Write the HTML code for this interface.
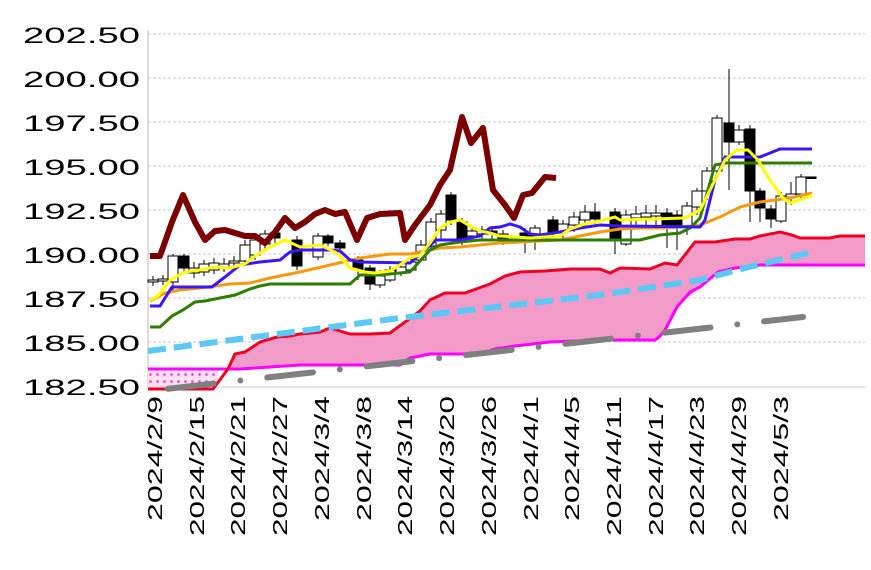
<!DOCTYPE html>
<html><head><meta charset="utf-8"><style>body{margin:0;background:#fff}svg{display:block}</style></head><body>
<svg width="871" height="570" viewBox="0 0 871 570" xmlns="http://www.w3.org/2000/svg" font-family="Liberation Sans, sans-serif">
<defs>
<pattern id="dots" width="7" height="7" patternUnits="userSpaceOnUse"><rect width="7" height="7" fill="#fbe0f0"/><circle cx="3.5" cy="3.5" r="1.3" fill="#ff33cc"/></pattern>
</defs>
<g stroke="#c8c8c8" stroke-width="1" stroke-dasharray="3,2">
<line x1="148" y1="34" x2="865" y2="34"/><line x1="148" y1="78" x2="865" y2="78"/><line x1="148" y1="122" x2="865" y2="122"/><line x1="148" y1="166" x2="865" y2="166"/><line x1="148" y1="210" x2="865" y2="210"/><line x1="148" y1="254" x2="865" y2="254"/><line x1="148" y1="298" x2="865" y2="298"/><line x1="148" y1="342" x2="865" y2="342"/>
</g>
<line x1="148" y1="30" x2="148" y2="388" stroke="#bbb"/>
<line x1="148" y1="387" x2="865" y2="387" stroke="#ccc"/>
<g font-size="22" fill="#000">
<text x="23" y="43" textLength="117" lengthAdjust="spacingAndGlyphs">202.50</text><text x="23" y="87" textLength="117" lengthAdjust="spacingAndGlyphs">200.00</text><text x="23" y="131" textLength="117" lengthAdjust="spacingAndGlyphs">197.50</text><text x="23" y="175" textLength="117" lengthAdjust="spacingAndGlyphs">195.00</text><text x="23" y="219" textLength="117" lengthAdjust="spacingAndGlyphs">192.50</text><text x="23" y="263" textLength="117" lengthAdjust="spacingAndGlyphs">190.00</text><text x="23" y="307" textLength="117" lengthAdjust="spacingAndGlyphs">187.50</text><text x="23" y="351" textLength="117" lengthAdjust="spacingAndGlyphs">185.00</text><text x="23" y="395" textLength="117" lengthAdjust="spacingAndGlyphs">182.50</text>
</g>
<rect x="148" y="369" width="70" height="20" fill="url(#dots)"/>
<polygon fill="#f29bc9" points="228,369 235,354 245,352 260,342 277,337 290,336 300,334 320,332 330,328 350,334 370,334 390,333 405,322 420,311 430,300 445,293 465,293 490,284 505,276 520,272 545,271 570,269 600,269 610,273 620,268 650,269 665,263 677,265 695,242 715,242 735,239 750,239 760,236 780,232 792,235 800,238 830,238 840,236 865,236 865,265 760,265 718,272 700,287 677,307 660,337 655,340 600,340 550,342 515,346 495,349 480,354 430,354 410,358 400,365 300,365 270,367 240,369"/>
<polyline fill="none" stroke="#ff00ff" stroke-width="3" points="148,369 240,369 270,367 300,365 400,365 410,358 430,354 480,354 495,349 515,346 550,342 600,340 655,340 660,336 665,330 677,307 690,292 700,287 718,272 735,268 760,265 865,265"/>
<polyline fill="none" stroke="#ee0020" stroke-width="3" points="148,389 213,389 228,369 235,354 245,352 260,342 277,337 290,336 300,334 320,332 330,328 350,334 370,334 390,333 405,322 420,311 430,300 445,293 465,293 490,284 505,276 520,272 545,271 570,269 600,269 610,273 620,268 650,269 665,263 677,265 695,242 715,242 735,239 750,239 760,236 780,232 792,235 800,238 830,238 840,236 865,236"/>
<polyline fill="none" stroke="#5bc8f5" stroke-width="6" stroke-dasharray="18,8" points="148,351 400,318 600,295 700,280 745,268 808,253"/>
<line x1="148" y1="391" x2="803" y2="317" stroke="#808080" stroke-width="6" stroke-linecap="round" stroke-dasharray="46,27,0,27" stroke-dashoffset="-20"/>
<g stroke="#000" stroke-width="1">
<line x1="153" y1="276" x2="153" y2="286"/><rect x="148" y="280" width="10" height="2" fill="#fff"/>
<line x1="163" y1="275" x2="163" y2="285"/><rect x="158" y="279" width="10" height="2" fill="#fff"/>
<line x1="173" y1="254" x2="173" y2="290"/><rect x="168" y="256" width="10" height="26" fill="#fff"/>
<line x1="184" y1="254" x2="184" y2="272"/><rect x="179" y="256" width="10" height="12" fill="#000"/>
<line x1="194" y1="262" x2="194" y2="278"/><rect x="189" y="268" width="10" height="5" fill="#fff"/>
<line x1="204" y1="260" x2="204" y2="276"/><rect x="199" y="264" width="10" height="8" fill="#fff"/>
<line x1="214" y1="258" x2="214" y2="274"/><rect x="209" y="263" width="10" height="7" fill="#fff"/>
<line x1="224" y1="258" x2="224" y2="272"/><rect x="219" y="264" width="10" height="4" fill="#fff"/>
<line x1="234" y1="256" x2="234" y2="268"/><rect x="229" y="261" width="10" height="2" fill="#fff"/>
<line x1="245" y1="240" x2="245" y2="266"/><rect x="240" y="245" width="10" height="16" fill="#fff"/>
<line x1="255" y1="235" x2="255" y2="260"/><rect x="250" y="240" width="10" height="15" fill="#fff"/>
<line x1="265" y1="230" x2="265" y2="250"/><rect x="260" y="234" width="10" height="10" fill="#fff"/>
<line x1="275" y1="228" x2="275" y2="245"/><rect x="270" y="233" width="10" height="5" fill="#000"/>
<line x1="297" y1="236" x2="297" y2="270"/><rect x="292" y="240" width="10" height="26" fill="#000"/>
<line x1="318" y1="233" x2="318" y2="260"/><rect x="313" y="236" width="10" height="21" fill="#fff"/>
<line x1="328" y1="234" x2="328" y2="246"/><rect x="323" y="236" width="10" height="7" fill="#000"/>
<line x1="340" y1="240" x2="340" y2="252"/><rect x="335" y="243" width="10" height="5" fill="#000"/>
<line x1="358" y1="256" x2="358" y2="280"/><rect x="353" y="260" width="10" height="10" fill="#000"/>
<line x1="370" y1="265" x2="370" y2="290"/><rect x="365" y="268" width="10" height="16" fill="#000"/>
<line x1="380" y1="270" x2="380" y2="288"/><rect x="375" y="276" width="10" height="9" fill="#fff"/>
<line x1="390" y1="266" x2="390" y2="282"/><rect x="385" y="270" width="10" height="10" fill="#fff"/>
<line x1="401" y1="262" x2="401" y2="276"/><rect x="396" y="267" width="10" height="6" fill="#fff"/>
<line x1="411" y1="258" x2="411" y2="272"/><rect x="406" y="262" width="10" height="8" fill="#fff"/>
<line x1="421" y1="240" x2="421" y2="262"/><rect x="416" y="245" width="10" height="15" fill="#fff"/>
<line x1="431" y1="218" x2="431" y2="250"/><rect x="426" y="222" width="10" height="24" fill="#fff"/>
<line x1="441" y1="210" x2="441" y2="240"/><rect x="436" y="214" width="10" height="16" fill="#fff"/>
<line x1="451" y1="192" x2="451" y2="225"/><rect x="446" y="195" width="10" height="25" fill="#000"/>
<line x1="462" y1="218" x2="462" y2="245"/><rect x="457" y="222" width="10" height="16" fill="#000"/>
<line x1="472" y1="228" x2="472" y2="242"/><rect x="467" y="231" width="10" height="5" fill="#fff"/>
<line x1="482" y1="226" x2="482" y2="240"/><rect x="477" y="230" width="10" height="4" fill="#fff"/>
<line x1="492" y1="226" x2="492" y2="240"/><rect x="487" y="231" width="10" height="3" fill="#000"/>
<line x1="503" y1="230" x2="503" y2="245"/><rect x="498" y="234" width="10" height="4" fill="#fff"/>
<line x1="525" y1="228" x2="525" y2="253"/><rect x="520" y="233" width="10" height="7" fill="#000"/>
<line x1="535" y1="225" x2="535" y2="250"/><rect x="530" y="228" width="10" height="8" fill="#fff"/>
<line x1="553" y1="216" x2="553" y2="236"/><rect x="548" y="220" width="10" height="12" fill="#000"/>
<line x1="563" y1="220" x2="563" y2="238"/><rect x="558" y="224" width="10" height="8" fill="#fff"/>
<line x1="574" y1="212" x2="574" y2="232"/><rect x="569" y="217" width="10" height="8" fill="#fff"/>
<line x1="585" y1="205" x2="585" y2="228"/><rect x="580" y="212" width="10" height="8" fill="#fff"/>
<line x1="595" y1="203" x2="595" y2="224"/><rect x="590" y="212" width="10" height="7" fill="#000"/>
<line x1="615" y1="208" x2="615" y2="254"/><rect x="610" y="212" width="10" height="28" fill="#000"/>
<line x1="626" y1="210" x2="626" y2="246"/><rect x="621" y="215" width="10" height="29" fill="#fff"/>
<line x1="636" y1="206" x2="636" y2="228"/><rect x="631" y="214" width="10" height="4" fill="#fff"/>
<line x1="646" y1="205" x2="646" y2="226"/><rect x="641" y="213" width="10" height="4" fill="#fff"/>
<line x1="656" y1="205" x2="656" y2="228"/><rect x="651" y="213" width="10" height="3" fill="#fff"/>
<line x1="667" y1="208" x2="667" y2="248"/><rect x="662" y="213" width="10" height="15" fill="#000"/>
<line x1="677" y1="210" x2="677" y2="250"/><rect x="672" y="215" width="10" height="10" fill="#000"/>
<line x1="687" y1="202" x2="687" y2="235"/><rect x="682" y="206" width="10" height="20" fill="#fff"/>
<line x1="697" y1="188" x2="697" y2="215"/><rect x="692" y="191" width="10" height="16" fill="#fff"/>
<line x1="707" y1="167" x2="707" y2="200"/><rect x="702" y="171" width="10" height="20" fill="#fff"/>
<line x1="717" y1="115" x2="717" y2="175"/><rect x="712" y="118" width="10" height="53" fill="#fff"/>
<line x1="729" y1="69" x2="729" y2="190"/><rect x="724" y="123" width="10" height="19" fill="#000"/>
<line x1="739" y1="125" x2="739" y2="145"/><rect x="734" y="130" width="10" height="12" fill="#fff"/>
<line x1="750" y1="125" x2="750" y2="222"/><rect x="745" y="129" width="10" height="62" fill="#000"/>
<line x1="760" y1="188" x2="760" y2="222"/><rect x="755" y="191" width="10" height="17" fill="#000"/>
<line x1="771" y1="205" x2="771" y2="228"/><rect x="766" y="209" width="10" height="10" fill="#000"/>
<line x1="781" y1="192" x2="781" y2="223"/><rect x="776" y="196" width="10" height="25" fill="#fff"/>
<line x1="791" y1="182" x2="791" y2="205"/><rect x="786" y="194" width="10" height="3" fill="#fff"/>
<line x1="801" y1="174" x2="801" y2="198"/><rect x="796" y="177" width="10" height="17" fill="#fff"/>
<rect x="806" y="177" width="10" height="1.5" fill="#000"/>
</g>
<polyline fill="none" stroke="#f59a0f" stroke-width="3" points="150,301 165,293 180,290 200,288 230,284 250,283 270,278 300,272 330,265 360,258 390,254 410,254 420,252 440,248 460,247 480,245 500,243 520,242 540,241 560,240 580,236 600,232 620,229 640,228 660,228 680,227 700,225 720,217 740,207 760,202 790,198 812,193"/>
<polyline fill="none" stroke="#2e7d00" stroke-width="3" points="150,327 160,327 172,316 183,310 195,302 205,301 220,298 235,295 250,289 260,286 270,284 350,284 360,275 380,275 410,272 430,250 440,245 460,242 480,240 640,240 660,235 680,233 690,228 700,218 715,165 725,163 812,163"/>
<polyline fill="none" stroke="#3a16ff" stroke-width="3" points="150,306 160,306 172,287 212,287 225,277 240,265 260,262 280,260 290,252 300,250 330,250 340,251 350,260 360,262 410,263 436,240 460,240 470,238 480,236 490,228 500,227 510,224 520,227 530,234 540,235 560,232 580,228 600,225 620,226 700,227 705,220 715,180 725,157 760,157 770,153 780,149 812,149"/>
<polyline fill="none" stroke="#ffff00" stroke-width="3" points="150,300 158,296 170,280 185,272 200,270 215,267 230,268 245,264 255,256 270,247 285,240 300,247 320,245 335,252 340,256 350,268 365,272 375,273 390,271 400,265 410,258 420,255 430,243 440,228 450,222 460,220 470,226 480,231 490,233 500,236 530,238 560,236 570,229 585,224 600,221 615,217 620,220 685,218 700,210 715,180 725,160 737,150 748,150 758,160 770,180 783,198 790,203 808,197 812,195"/>
<polyline fill="none" stroke="#7b0000" stroke-width="6" stroke-linejoin="round" points="150,256 160,256 172,222 183,195 195,222 205,240 215,231 225,230 235,233 245,236 255,236 265,243 275,232 285,218 295,228 305,222 315,214 325,210 335,214 345,212 357,240 367,218 380,214 400,213 405,240 415,225 430,205 440,185 450,170 462,117 471,143 483,128 493,190 505,205 514,218 523,195 532,193 545,177 556,178"/>
<g font-size="20" fill="#000" text-anchor="end">
<text transform="translate(162,396) rotate(-90)" textLength="125" lengthAdjust="spacingAndGlyphs">2024/2/9</text>
<text transform="translate(204,396) rotate(-90)" textLength="140" lengthAdjust="spacingAndGlyphs">2024/2/15</text>
<text transform="translate(245,396) rotate(-90)" textLength="140" lengthAdjust="spacingAndGlyphs">2024/2/21</text>
<text transform="translate(287,396) rotate(-90)" textLength="140" lengthAdjust="spacingAndGlyphs">2024/2/27</text>
<text transform="translate(329,396) rotate(-90)" textLength="125" lengthAdjust="spacingAndGlyphs">2024/3/4</text>
<text transform="translate(371,396) rotate(-90)" textLength="125" lengthAdjust="spacingAndGlyphs">2024/3/8</text>
<text transform="translate(412,396) rotate(-90)" textLength="140" lengthAdjust="spacingAndGlyphs">2024/3/14</text>
<text transform="translate(454,396) rotate(-90)" textLength="140" lengthAdjust="spacingAndGlyphs">2024/3/20</text>
<text transform="translate(496,396) rotate(-90)" textLength="140" lengthAdjust="spacingAndGlyphs">2024/3/26</text>
<text transform="translate(538,396) rotate(-90)" textLength="125" lengthAdjust="spacingAndGlyphs">2024/4/1</text>
<text transform="translate(579,396) rotate(-90)" textLength="125" lengthAdjust="spacingAndGlyphs">2024/4/5</text>
<text transform="translate(621,396) rotate(-90)" textLength="140" lengthAdjust="spacingAndGlyphs">2024/4/11</text>
<text transform="translate(663,396) rotate(-90)" textLength="140" lengthAdjust="spacingAndGlyphs">2024/4/17</text>
<text transform="translate(704,396) rotate(-90)" textLength="140" lengthAdjust="spacingAndGlyphs">2024/4/23</text>
<text transform="translate(746,396) rotate(-90)" textLength="140" lengthAdjust="spacingAndGlyphs">2024/4/29</text>
<text transform="translate(788,396) rotate(-90)" textLength="125" lengthAdjust="spacingAndGlyphs">2024/5/3</text>
</g>
</svg>
</body></html>
